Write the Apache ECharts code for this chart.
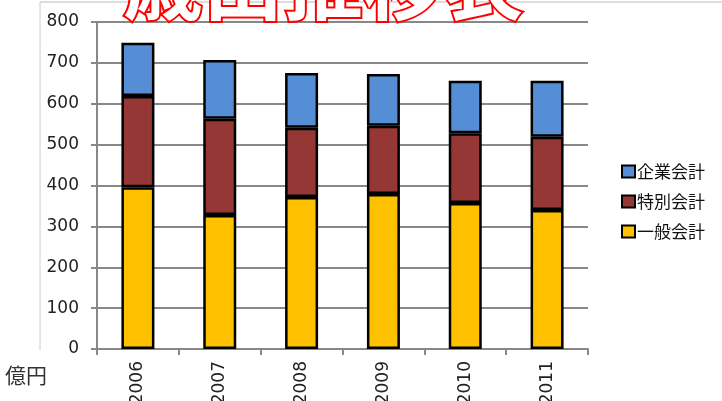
<!DOCTYPE html>
<html>
<head>
<meta charset="utf-8">
<script src="https://cdn.jsdelivr.net/npm/echarts@6/dist/echarts.min.js"></script>
<style>
  html, body { margin: 0; padding: 0; background: #fff; }
  #chart { width: 722px; height: 401px; }
</style>
</head>
<body>
<div id="chart"></div>
<script>
  // 年度
  var years = ['2006', '2007', '2008', '2009', '2010', '2011'];
  // 億円
  var ippan = [396, 328, 372, 379, 357, 340];     // 一般会計
  var tokubetsu = [223, 235, 169, 167, 171, 179]; // 特別会計
  var kigyou = [130, 144, 134, 127, 128, 137];    // 企業会計
  var yTicks = [0, 100, 200, 300, 400, 500, 600, 700, 800];

  var font = '"Noto Sans CJK JP", "Noto Sans", sans-serif';
  var numFont = '"DejaVu Sans", sans-serif';
  var chart = echarts.init(document.getElementById('chart'));

  function bar(name, data, color) {
    return {
      name: name,
      type: 'bar',
      stack: 'total',
      barWidth: 33,
      data: data,
      itemStyle: { color: color, borderColor: '#000', borderWidth: 2.5 }
    };
  }

  var option = {
    animation: false,
    textStyle: { fontFamily: font },
    title: {
      text: '歳出推移表',
      left: 118,
      top: -62,
      textStyle: {
        fontSize: 80,
        fontWeight: 'bold',
        color: '#fff',
        textBorderColor: '#ff0000',
        textBorderWidth: 4,
        fontFamily: font
      }
    },
    graphic: [
      { type: 'line', shape: { x1: 40, y1: 2, x2: 722, y2: 2 }, style: { stroke: '#bbb', lineWidth: 1 }, z: -1 },
      { type: 'line', shape: { x1: 40, y1: 2, x2: 40, y2: 350 }, style: { stroke: '#ccc', lineWidth: 1 }, z: -1 },
      { type: 'text', left: 5, top: 365, style: { text: '億円', font: '21px ' + font, fill: '#333' } }
    ],
    legend: {
      orient: 'vertical',
      left: 616,
      top: 158,
      itemGap: 13,
      itemWidth: 13,
      itemHeight: 12,
      icon: 'rect',
      data: ['企業会計', '特別会計', '一般会計'],
      textStyle: { fontSize: 17, color: '#111', fontFamily: font, padding: [0, 0, 0, -3] }
    },
    grid: { left: 97, right: 134, top: 22, bottom: 52, outerBoundsMode: 'none', containLabel: false },
    xAxis: {
      type: 'category',
      data: years,
      axisLine: { lineStyle: { color: '#888', width: 2 } },
      axisTick: { show: true, length: 6, lineStyle: { color: '#888', width: 2 } },
      axisLabel: { rotate: 90, fontSize: 17, color: '#222', margin: 12, fontFamily: numFont }
    },
    yAxis: {
      type: 'value',
      min: yTicks[0],
      max: yTicks[yTicks.length - 1],
      interval: 100,
      axisLine: { show: true, lineStyle: { color: '#888', width: 2 } },
      axisTick: { show: true, length: 6, lineStyle: { color: '#888', width: 2 } },
      axisLabel: { fontSize: 17, color: '#222', margin: 18, fontFamily: numFont },
      splitLine: { lineStyle: { color: '#888', width: 2 } }
    },
    series: [
      bar('一般会計', ippan, '#FFC000'),
      bar('特別会計', tokubetsu, '#953735'),
      bar('企業会計', kigyou, '#558ED5')
    ]
  };
  chart.setOption(option);
</script>
</body>
</html>
